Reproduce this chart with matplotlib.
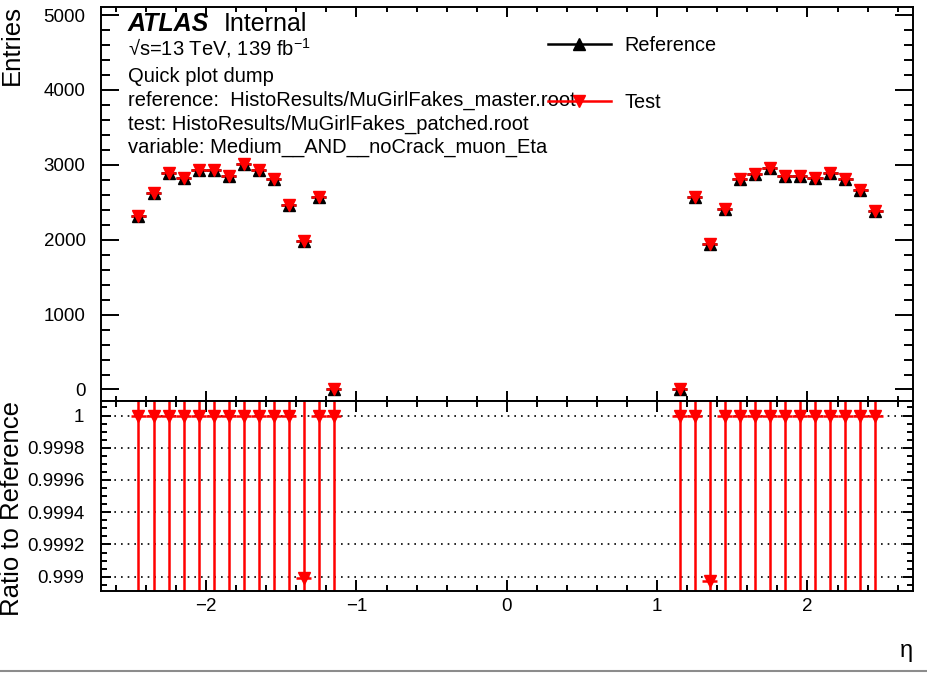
import numpy as np
import matplotlib
matplotlib.use("Agg")
import matplotlib.pyplot as plt
from matplotlib.lines import Line2D
from matplotlib.ticker import MultipleLocator, FuncFormatter

plt.rcParams['font.family'] = ['Liberation Sans', 'DejaVu Sans']
plt.rcParams['mathtext.fontset'] = 'custom'
plt.rcParams['mathtext.rm'] = 'Liberation Sans'
plt.rcParams['mathtext.it'] = 'Liberation Sans:italic'

# bin centres (eta), bins of width 0.1, gap in the middle is empty
eta = [-2.45, -2.35, -2.25, -2.15, -2.05, -1.95, -1.85, -1.75, -1.65, -1.55, -1.45, -1.35, -1.25, -1.15,
       1.15, 1.25, 1.35, 1.45, 1.55, 1.65, 1.75, 1.85, 1.95, 2.05, 2.15, 2.25, 2.35, 2.45]
ref = [2323, 2617, 2884, 2827, 2924, 2924, 2848, 3013, 2924, 2817, 2461, 1980, 2573, 6,
       5, 2567, 1945, 2412, 2813, 2880, 2960, 2857, 2857, 2821, 2893, 2804, 2661, 2380]
test = [2323, 2617, 2884, 2827, 2924, 2924, 2848, 3013, 2924, 2817, 2461, 1978, 2573, 6,
        5, 2567, 1943, 2412, 2813, 2880, 2960, 2857, 2857, 2821, 2893, 2804, 2661, 2380]
bin_half = 0.05

info_lines = ["\u221as=13 TeV, 139 fb$^{-1}$",
              "Quick plot dump",
              "reference:  HistoResults/MuGirlFakes_master.root",
              "test: HistoResults/MuGirlFakes_patched.root",
              "variable: Medium__AND__noCrack_muon_Eta"]

eta = np.array(eta)
ref = np.array(ref, dtype=float)
test = np.array(test, dtype=float)
ratio = test / ref
rerr = ratio * np.sqrt(1.0 / test + 1.0 / ref)

W, H = 927, 673
fig = plt.figure(figsize=(W / 100, H / 100), dpi=100)
x0, x1 = 100.9, 912.7
ax = fig.add_axes([x0 / W, 1 - 400.5 / H, (x1 - x0) / W, 393.2 / H])
rax = fig.add_axes([x0 / W, 1 - 590.7 / H, (x1 - x0) / W, 190.2 / H], sharex=ax)

ax.errorbar(eta, ref, xerr=bin_half, yerr=np.sqrt(ref), fmt='^', color='black',
            ms=8, elinewidth=1.8, capsize=0)
ax.errorbar(eta, test, xerr=bin_half, yerr=np.sqrt(test), fmt='v', color='red',
            ms=8, elinewidth=1.8, capsize=0)
rax.errorbar(eta, ratio, xerr=bin_half, yerr=rerr, fmt='v', color='red',
             ms=8, elinewidth=1.8, capsize=0)

ax.set_xlim(-2.7, 2.7)
ax.set_ylim(-147, 5103)
rax.set_ylim(0.998913, 1.0000932)

for a in (ax, rax):
    for s in a.spines.values():
        s.set_linewidth(1.4)
    a.xaxis.set_major_locator(MultipleLocator(1))
    a.xaxis.set_minor_locator(MultipleLocator(0.2))
    a.tick_params(which='both', direction='in', top=True, right=True, width=1.4, labelsize=13.5)

ax.yaxis.set_major_locator(MultipleLocator(1000))
ax.yaxis.set_minor_locator(MultipleLocator(200))
ax.tick_params(axis='y', which='major', length=13, pad=11)
ax.tick_params(axis='y', which='minor', length=6.5)
ax.tick_params(axis='x', which='major', length=7)
ax.tick_params(axis='x', which='minor', length=3.7)
ax.tick_params(labelbottom=False)

rax.yaxis.set_major_locator(MultipleLocator(0.0002))
rax.yaxis.set_minor_locator(MultipleLocator(0.00005))
rax.yaxis.set_major_formatter(FuncFormatter(lambda v, p: f"{v:.4f}".rstrip('0').rstrip('.')))
rax.tick_params(axis='y', which='major', length=7, pad=12)
rax.tick_params(axis='y', which='minor', length=4)
rax.tick_params(axis='x', which='major', length=8, pad=5)
rax.tick_params(axis='x', which='minor', length=4)
rax.grid(axis='y', which='major', linestyle=(0, (1, 3)), color='black', lw=1.2)
rax.set_axisbelow(True)

tx = (128 - x0) / (x1 - x0)
ax.text(tx, 0.94, "ATLAS", transform=ax.transAxes, fontsize=18, fontweight='bold',
        style='italic', va='baseline')
ax.text((224 - x0) / (x1 - x0), 0.94, "Internal", transform=ax.transAxes, fontsize=18,
        va='baseline')
for yy, line in zip([0.8787, 0.8108, 0.749, 0.6897, 0.6302], info_lines):
    ax.text(tx, yy, line, transform=ax.transAxes, fontsize=14.5, va='baseline')

handles = [Line2D([], [], color='black', marker='^', ms=8, lw=1.8),
           Line2D([], [], color='red', marker='v', ms=8, lw=1.8)]
ax.legend(handles, ["Reference", "Test"], loc='upper left',
          bbox_to_anchor=((548 - x0) / (x1 - x0), 0.927), frameon=False, fontsize=14.3,
          handlelength=3.15, handletextpad=0.7, labelspacing=1.9, borderpad=0,
          borderaxespad=0, numpoints=1)

fig.text(12 / W, 1 - 5 / H, "Entries", rotation=90, ha='center', va='top', fontsize=18.5)
fig.text(12 / W, 1 - 508 / H, "Ratio to Reference", rotation=90, ha='center', va='center',
         fontsize=18.5)
fig.text(913 / W, 1 - 651 / H, "\u03b7", ha='right', va='center', fontsize=17)

fig.add_artist(Line2D([0, 1], [1 - 670.5 / H] * 2, transform=fig.transFigure,
                      color='#8c8c8c', lw=1.5))

fig.savefig("out.png", dpi=100)
